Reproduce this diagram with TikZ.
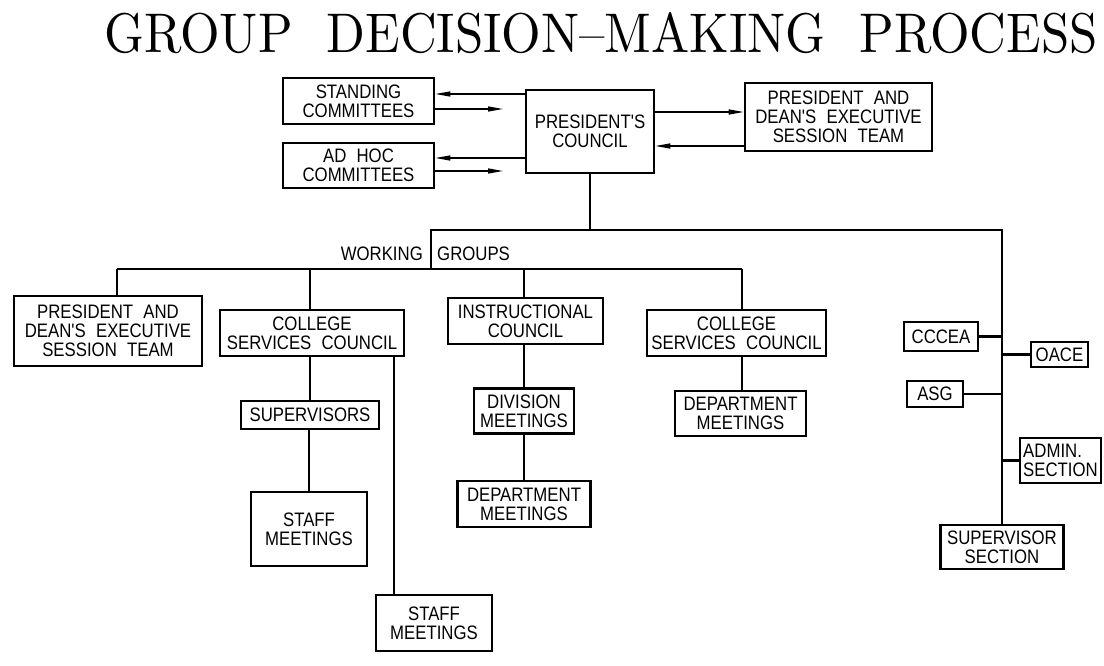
\documentclass[tikz,border=0pt]{standalone}
\usepackage{fontspec}
\usepackage{graphicx}
\usetikzlibrary{arrows.meta}
\newfontfamily\cad{Liberation Sans}[FakeStretch=0.86,WordSpace=2.2]
\tikzset{
  bx/.style={draw, line width=2.6pt, inner sep=0pt, align=center,
    font=\cad\fontsize{19.5}{19}\selectfont},
  ln/.style={line width=2.5pt},
  arr/.style={line width=1.3pt, -{Triangle[length=15pt,width=5pt]}},
  lbl/.style={inner sep=0pt, font=\cad\fontsize{19.5}{19}\selectfont}
}
\begin{document}
\begin{tikzpicture}[x=1pt,y=-1pt]
\useasboundingbox (0,0) rectangle (1104,666);
% title
\node[inner sep=0pt] (title) at (601,33) {\resizebox{993pt}{40pt}{\rmfamily GROUP\ \ DECISION--MAKING\ \ PROCESS}};
% top boxes
\node[bx, minimum width=151pt, minimum height=46pt] (stand) at (358.5,101) {STANDING\\COMMITTEES};
\node[bx, minimum width=151pt, minimum height=45pt] (adhoc) at (358.5,165.5) {AD HOC\\COMMITTEES};
\node[bx, minimum width=128pt, minimum height=83pt] (pc) at (590,131.5) {PRESIDENT'S\\COUNCIL};
\node[bx, minimum width=187pt, minimum height=68pt] (pdes1) at (838.5,117) {PRESIDENT AND\\DEAN'S EXECUTIVE\\SESSION TEAM};
% arrows
\coordinate (sa) at (503,109);
\coordinate (ha) at (503,171);
\draw[arr] (pc.west |- 0,94) -- (stand.east |- 0,94);
\draw[arr] (stand.east |- 0,109) -- (sa);
\draw[arr] (pc.west |- 0,158) -- (adhoc.east |- 0,158);
\draw[arr] (adhoc.east |- 0,171) -- (ha);
\draw[arr] (pc.east |- 0,112) -- (pdes1.west |- 0,112);
\draw[arr] (pdes1.west |- 0,146) -- (pc.east |- 0,146);
% working groups
\coordinate (j1) at (590,230);
\coordinate (j2) at (431,230);
\coordinate (j3) at (1002,230);
\coordinate (j4) at (431,269);
\coordinate (h1) at (117,269);
\coordinate (h2) at (310,269);
\coordinate (h3) at (524,269);
\coordinate (h4) at (742,269);
\node[lbl, anchor=base east] (wk) at (423,260) {WORKING};
\node[lbl, anchor=base west] (gr) at (437,260) {GROUPS};
% second-level boxes
\node[bx, minimum width=188pt, minimum height=70pt] (pdes2) at (108,331) {PRESIDENT AND\\DEAN'S EXECUTIVE\\SESSION TEAM};
\node[bx, minimum width=184pt, minimum height=46pt] (csc1) at (312,333) {COLLEGE\\SERVICES COUNCIL};
\node[bx, minimum width=155pt, minimum height=46pt] (instr) at (525.5,321) {INSTRUCTIONAL\\COUNCIL};
\node[bx, minimum width=179pt, minimum height=46pt] (csc2) at (736.5,333) {COLLEGE\\SERVICES COUNCIL};
\node[bx, minimum width=138pt, minimum height=28pt] (sup) at (310,415) {SUPERVISORS};
\node[bx, minimum width=116pt, minimum height=74pt] (staff1) at (309,529) {STAFF\\MEETINGS};
\node[bx, minimum width=116pt, minimum height=56pt] (staff2) at (434,623) {STAFF\\MEETINGS};
\node[bx, minimum width=100pt, minimum height=45pt] (div) at (524,411) {DIVISION\\MEETINGS};
\node[bx, minimum width=133pt, minimum height=46pt] (dept2) at (524,504) {DEPARTMENT\\MEETINGS};
\node[bx, minimum width=131pt, minimum height=45pt] (dept1) at (740.5,413.5) {DEPARTMENT\\MEETINGS};
% right branch
\node[bx, minimum width=74pt, minimum height=29pt] (cccea) at (941,336.5) {CCCEA};
\node[bx, minimum width=57pt, minimum height=25pt] (oace) at (1059.5,354.5) {OACE};
\node[bx, minimum width=56pt, minimum height=26pt] (asg) at (935,394) {ASG};
\node[bx, minimum width=81pt, minimum height=45pt, align=left] (admin) at (1060.5,460.5) {ADMIN.\\SECTION};
\node[bx, minimum width=123pt, minimum height=44pt] (supsec) at (1002,547) {SUPERVISOR\\SECTION};
% tree lines
\draw[ln] (pc.south) -- (j1);
\draw[ln] (j4) -- (j2) -- (j3) -- (supsec.north);
\draw[ln] (h1) -- (h4);
\draw[ln] (h1) -- (h1 |- pdes2.north);
\draw[ln] (h2) -- (h2 |- csc1.north);
\draw[ln] (h3) -- (h3 |- instr.north);
\draw[ln] (h4) -- (h4 |- csc2.north);
\draw[ln] (csc1.south -| 310,0) -- (sup.north -| 310,0);
\draw[ln] (sup.south -| 309,0) -- (staff1.north -| 309,0);
\draw[ln] (csc1.south -| 394,0) -- (staff2.north -| 394,0);
\draw[ln] (instr.south -| 524,0) -- (div.north);
\draw[ln] (div.south) -- (dept2.north);
\draw[ln] (csc2.south -| 742,0) -- (dept1.north -| 742,0);
\draw[ln] (cccea.east) -- (j3 |- cccea.east);
\draw[ln] (oace.west) -- (j3 |- oace.west);
\draw[ln] (asg.east) -- (j3 |- asg.east);
\draw[ln] (admin.west) -- (j3 |- admin.west);
\end{tikzpicture}
\end{document}
